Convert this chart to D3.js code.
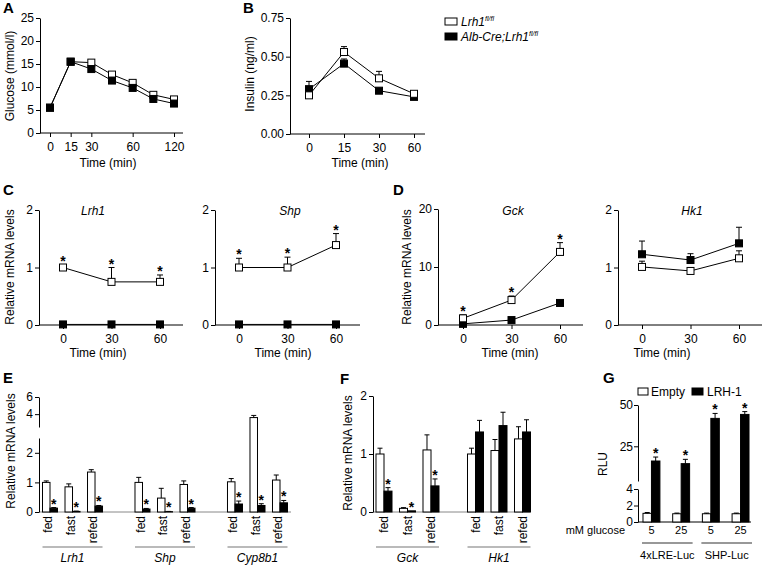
<!DOCTYPE html>
<html><head><meta charset="utf-8">
<script src="https://cdn.jsdelivr.net/npm/d3@7"></script>
<style>
body{margin:0;background:#fff}
svg{display:block;font-family:"Liberation Sans",Arial,Helvetica,sans-serif}
</style></head><body>
<svg id="c" width="766" height="567"></svg>
<script>
// ---------------- DATA ----------------
// A: glucose tolerance
const timeA = ["0","15","30","45","60","90","120"];
const timeATicks = ["0","15","30","60","120"];
const glucoseCtrl = [5.5,15.5,15.3,12.7,10.9,8.3,7.3];
const glucoseKO   = [5.5,15.5,13.9,11.4,9.8,7.4,6.4];
// B: insulin
const timeB = ["0","15","30","60"];
const insulinCtrl = [0.25,0.53,0.36,0.26];
const insulinCtrlErr = [0.02,0.035,0.045,0.015];
const insulinKO = [0.29,0.455,0.28,0.24];
const insulinKOErr = [0.05,0.03,0.01,0.01];
// C / D: time course
const timeC = ["0","30","60"];
const lrh1Ctrl = [1.0,0.75,0.75], lrh1CtrlErr = [0.04,0.25,0.12];
const lrh1KO = [0.01,0.01,0.01];
const shpCtrl = [1.0,1.0,1.39], shpCtrlErr = [0.16,0.18,0.2];
const shpKO = [0.01,0.01,0.01];
const gckCtrl = [1.15,4.3,12.6], gckCtrlErr = [0.6,0.7,1.6];
const gckKO = [0.2,0.85,3.8], gckKOErr = [0,0,0.4];
const hk1Ctrl = [1.01,0.94,1.16], hk1CtrlErr = [0.1,0.06,0.13];
const hk1KO = [1.23,1.13,1.42], hk1KOErr = [0.23,0.11,0.28];
// E: fed / fast / refed
const conds = ["fed","fast","refed"];
const eGenes = ["Lrh1","Shp","Cyp8b1"];
const eCtrl    = [[1.0,0.85,1.35],[1.0,0.47,0.93],[1.02,3.6,1.08]];
const eCtrlErr = [[0.05,0.1,0.08],[0.17,0.33,0.12],[0.11,0.25,0.17]];
const eKO      = [[0.13,0.02,0.2],[0.1,0.01,0.13],[0.27,0.22,0.31]];
const eKOErr   = [[0.02,0.01,0.02],[0.02,0.01,0.02],[0.1,0.06,0.08]];
// F
const fGenes = ["Gck","Hk1"];
const fCtrl    = [[1.0,0.063,1.07],[1.0,1.06,1.26]];
const fCtrlErr = [[0.1,0.012,0.26],[0.1,0.19,0.21]];
const fKO      = [[0.36,0.02,0.45],[1.38,1.49,1.38]];
const fKOErr   = [[0.06,0,0.12],[0.2,0.23,0.21]];
const fStars   = [true,false];
// G: luciferase
const gGlucose = ["5","25","5","25"];
const gReporters = ["4xLRE-Luc","SHP-Luc"];
const gEmpty = [1.05,1.0,1.0,1.0], gEmptyErr = [0.1,0.08,0.08,0.08];
const gLRH = [16.1,14.5,41.9,44.3], gLRHErr = [2.4,2.6,3.0,1.7];

// ---------------- HELPERS ----------------
const svg = d3.select("#c");
const FS = 12;
function tidy(g, size){ g.attr("font-size",size||FS).attr("font-family",null);
  g.selectAll("path,line").attr("stroke","#000"); g.selectAll("text").attr("fill","#000"); return g; }
function leftAxis(scale, x, ticks, fmt, size, pad){
  const a = d3.axisLeft(scale).tickValues(ticks).tickSize(4).tickSizeOuter(0).tickPadding(pad==null?2:pad)
    .tickFormat(fmt || d3.format("~g"));
  return tidy(svg.append("g").attr("transform",`translate(${x},0)`).call(a), size);
}
function bottomAxis(scale, y, x0, x1, ticks){
  const g = svg.append("g").attr("transform",`translate(0,${y})`)
    .call(d3.axisBottom(scale).tickValues(ticks).tickSize(4).tickSizeOuter(0).tickPadding(5));
  g.select(".domain").remove();
  g.append("line").attr("x1",x0).attr("x2",x1).attr("y1",0).attr("y2",0);
  return tidy(g);
}
function txt(s, x, y, opts={}){
  const t = svg.append("text").attr("x",x).attr("y",y).attr("font-size",opts.size||FS)
    .attr("text-anchor",opts.anchor||"middle").attr("fill","#000").text(s);
  if (opts.italic) t.attr("font-style","italic");
  if (opts.bold) t.attr("font-weight","bold");
  return t;
}
function vlabel(s, x, y){
  svg.append("text").attr("transform",`translate(${x},${y}) rotate(-90)`)
    .attr("text-anchor","middle").attr("font-size",FS).attr("fill","#000").text(s);
}
function star(x, y){ txt("*", x, y+1, {size:14, bold:true}); }
function linePlot(x, y, cats, series){
  const g = svg.append("g");
  series.forEach(s=>{
    g.append("path").attr("d", d3.line().x((d,i)=>x(cats[i])).y(d=>y(d))(s.vals))
      .attr("fill","none").attr("stroke","#000").attr("stroke-width",1);
  });
  series.forEach(s=>{
    s.vals.forEach((v,i)=>{
      const e = s.errs ? s.errs[i] : 0; if (!e) return;
      const cx = x(cats[i]);
      g.append("line").attr("x1",cx).attr("x2",cx).attr("y1",y(v)).attr("y2",y(v+e)).attr("stroke","#000");
      g.append("line").attr("x1",cx-3).attr("x2",cx+3).attr("y1",y(v+e)).attr("y2",y(v+e)).attr("stroke","#000");
    });
  });
  series.forEach(s=>{
    s.vals.forEach((v,i)=>{
      g.append("rect").attr("x",x(cats[i])-3.5).attr("y",y(v)-3.5).attr("width",7).attr("height",7)
        .attr("fill", s.filled ? "#000" : "#fff").attr("stroke","#000").attr("stroke-width",1);
    });
  });
  series.forEach(s=>{
    if (!s.stars) return;
    s.vals.forEach((v,i)=>{ const e = s.errs ? s.errs[i] : 0; star(x(cats[i]), y(v+e)); });
  });
}

// ---------------- PANEL LETTERS ----------------
[["A",3,13],["B",243,13],["C",3,195],["D",393,195],["E",3,383],["F",340,384],["G",603,383]]
  .forEach(([l,x,y])=>txt(l,x,y,{size:15,bold:true,anchor:"start"}).attr("font-weight","900"));

// ---------------- A ----------------
{
  const x = d3.scalePoint().domain(timeA).range([50,174]);
  const y = d3.scaleLinear().domain([0,25]).range([133,18]);
  leftAxis(y, 40, [0,5,10,15,20,25]);
  bottomAxis(x, 133, 40, 183, timeATicks);
  linePlot(x, y, timeA, [{vals:glucoseCtrl},{vals:glucoseKO, filled:true}]);
  vlabel("Glucose (mmol/l)", 14, 76);
  txt("Time (min)", 108, 167);
}
// ---------------- B ----------------
{
  const x = d3.scalePoint().domain(timeB).range([309,414]);
  const y = d3.scaleLinear().domain([0,0.75]).range([134,18]);
  leftAxis(y, 290, [0,0.25,0.5,0.75], d3.format(".2f"));
  bottomAxis(x, 134, 290, 425, timeB);
  linePlot(x, y, timeB, [{vals:insulinKO, errs:insulinKOErr, filled:true},{vals:insulinCtrl, errs:insulinCtrlErr}]);
  vlabel("Insulin (ng/ml)", 254, 74);
  txt("Time (min)", 360, 167);
  // legend
  svg.append("rect").attr("x",445).attr("y",18).attr("width",12).attr("height",7).attr("fill","#fff").attr("stroke","#000");
  svg.append("rect").attr("x",445).attr("y",33).attr("width",12).attr("height",7).attr("fill","#000").attr("stroke","#000");
  const t1 = txt("Lrh1", 461, 26, {anchor:"start", italic:true});
  t1.append("tspan").attr("font-size",7).attr("dy",-5).text("fl/fl");
  const t2 = txt("Alb-Cre;Lrh1", 461, 41, {anchor:"start", italic:true});
  t2.append("tspan").attr("font-size",7).attr("dy",-5).text("fl/fl");
}
// ---------------- C / D ----------------
{
  const yC = d3.scaleLinear().domain([0,2]).range([325,210]);
  const yG = d3.scaleLinear().domain([0,20]).range([325,209]);
  const panels = [
    {name:"Lrh1", ax:39, r:[63,160], end:183, y:yC, ticks:[0,1,2], tx:93, lx:98,
     series:[{vals:lrh1KO, filled:true},{vals:lrh1Ctrl, errs:lrh1CtrlErr, stars:true}]},
    {name:"Shp", ax:215, r:[239,336], end:360, y:yC, ticks:[0,1,2], tx:290, lx:283,
     series:[{vals:shpKO, filled:true},{vals:shpCtrl, errs:shpCtrlErr, stars:true}]},
    {name:"Gck", ax:438, r:[463,560], end:583, y:yG, ticks:[0,10,20], tx:513, lx:510,
     series:[{vals:gckKO, errs:gckKOErr, filled:true},{vals:gckCtrl, errs:gckCtrlErr, stars:true}]},
    {name:"Hk1", ax:618, r:[642,739], end:762, y:yC, ticks:[0,1,2], tx:692, lx:662,
     series:[{vals:hk1Ctrl, errs:hk1CtrlErr},{vals:hk1KO, errs:hk1KOErr, filled:true}]}
  ];
  panels.forEach(p=>{
    const x = d3.scalePoint().domain(timeC).range(p.r);
    leftAxis(p.y, p.ax, p.ticks);
    bottomAxis(x, 325, p.ax, p.end, timeC);
    linePlot(x, p.y, timeC, p.series);
    txt(p.name, p.tx, 215, {italic:true});
    txt("Time (min)", p.lx, 357);
  });
  vlabel("Relative mRNA levels", 14, 267);
  vlabel("Relative mRNA levels", 411, 267);
}
// ---------------- bar helper ----------------
function barGroup(xPos, w, yFn, base, v, e, filled, withStar){
  svg.append("rect").attr("x",xPos).attr("y",yFn(v)).attr("width",w).attr("height",Math.max(0,base-yFn(v)))
    .attr("fill", filled ? "#000" : "#fff").attr("stroke","#000").attr("stroke-width",1);
  const cx = xPos + w/2;
  if (e > 0){
    svg.append("line").attr("x1",cx).attr("x2",cx).attr("y1",yFn(v)).attr("y2",yFn(v+e)).attr("stroke","#000");
    svg.append("line").attr("x1",cx-2.5).attr("x2",cx+2.5).attr("y1",yFn(v+e)).attr("y2",yFn(v+e)).attr("stroke","#000");
  }
  if (withStar) star(cx, yFn(v+e));
}
// ---------------- E ----------------
{
  const yLow = d3.scaleLinear().domain([0,2.5]).range([512,438]);
  const yHigh = d3.scaleLinear().domain([2.5,6]).range([427,397]);
  const y = v => v <= 2.5 ? yLow(v) : yHigh(v);
  const xO = d3.scaleBand().domain(eGenes).range([38.75,291.25]).paddingInner(0.27).paddingOuter(0);
  const xI = d3.scaleBand().domain(conds).range([0,xO.bandwidth()]).paddingInner(1/3).paddingOuter(1/6);
  const xS = d3.scaleBand().domain(["ctrl","ko"]).range([0,xI.bandwidth()]);
  svg.append("line").attr("x1",39).attr("x2",291).attr("y1",512).attr("y2",512).attr("stroke","#888");
  eGenes.forEach((g,gi)=>{
    conds.forEach((c,ci)=>{
      const x0 = xO(g)+xI(c);
      barGroup(x0+xS("ctrl"), xS.bandwidth(), y, 512, eCtrl[gi][ci], eCtrlErr[gi][ci], false, false);
      barGroup(x0+xS("ko"), xS.bandwidth(), y, 512, eKO[gi][ci], eKOErr[gi][ci], true, true);
      svg.append("text").attr("transform",`translate(${x0+xI.bandwidth()/2-2},516) rotate(-90)`)
        .attr("dy","0.35em").attr("text-anchor","end").attr("font-size",FS).attr("fill","#000").text(c);
    });
    const a = xO(g)+xI("fed"), b = xO(g)+xI("refed")+xI.bandwidth();
    svg.append("line").attr("x1",a).attr("x2",b).attr("y1",547).attr("y2",547).attr("stroke","#777").attr("stroke-width",1.2);
    txt(g, (a+b)/2, 562, {italic:true});
  });
  leftAxis(yLow, 39, [0,1,2]);
  leftAxis(yHigh, 39, [4,6]);
  vlabel("Relative mRNA levels", 15, 451);
}
// ---------------- F ----------------
{
  const y = d3.scaleLinear().domain([0,2]).range([512,396]);
  const xO = d3.scaleBand().domain(fGenes).range([372.25,534.25]).paddingInner(0.2295).paddingOuter(0);
  const xI = d3.scaleBand().domain(conds).range([0,xO.bandwidth()]).paddingInner(0.319).paddingOuter(0.1595);
  const xS = d3.scaleBand().domain(["ctrl","ko"]).range([0,xI.bandwidth()]);
  svg.append("line").attr("x1",373).attr("x2",530).attr("y1",512).attr("y2",512).attr("stroke","#888");
  fGenes.forEach((g,gi)=>{
    conds.forEach((c,ci)=>{
      const x0 = xO(g)+xI(c);
      barGroup(x0+xS("ctrl"), xS.bandwidth(), y, 512, fCtrl[gi][ci], fCtrlErr[gi][ci], false, false);
      barGroup(x0+xS("ko"), xS.bandwidth(), y, 512, fKO[gi][ci], fKOErr[gi][ci], true, fStars[gi]);
      svg.append("text").attr("transform",`translate(${x0+xI.bandwidth()/2},516) rotate(-90)`)
        .attr("dy","0.35em").attr("text-anchor","end").attr("font-size",FS).attr("fill","#000").text(c);
    });
    const a = xO(g)+xI("fed"), b = xO(g)+xI("refed")+xI.bandwidth();
    svg.append("line").attr("x1",a).attr("x2",b).attr("y1",547).attr("y2",547).attr("stroke","#777").attr("stroke-width",1.2);
    txt(g, (a+b)/2, 562, {italic:true});
  });
  leftAxis(y, 373, [0,1,2]);
  vlabel("Relative mRNA levels", 352, 453);
}
// ---------------- G ----------------
{
  const yLow = d3.scaleLinear().domain([0,4]).range([522,489]);
  const yHigh = d3.scaleLinear().domain([4,50]).range([481,405]);
  const y = v => v <= 4 ? yLow(v) : yHigh(v);
  const idx = d3.range(gGlucose.length);
  const x = d3.scaleBand().domain(idx).range([638,754]).paddingInner(0.43).paddingOuter(0.168);
  const xS = d3.scaleBand().domain(["empty","lrh"]).range([0,x.bandwidth()]);
  svg.append("line").attr("x1",638).attr("x2",751).attr("y1",522).attr("y2",522).attr("stroke","#000");
  idx.forEach(i=>{
    barGroup(x(i)+xS("empty"), xS.bandwidth(), y, 522, gEmpty[i], gEmptyErr[i], false, false);
    barGroup(x(i)+xS("lrh"), xS.bandwidth(), y, 522, gLRH[i], gLRHErr[i], true, true);
    txt(gGlucose[i], x(i)+x.bandwidth()/2, 534, {size:11});
  });
  txt("mM glucose", 625, 534, {anchor:"end", size:11});
  gReporters.forEach((r,ri)=>{
    const a = x(ri*2)-1, b = x(ri*2+1)+x.bandwidth()+3;
    svg.append("line").attr("x1",a).attr("x2",b).attr("y1",543).attr("y2",543).attr("stroke","#333").attr("stroke-width",1.2);
    txt(r, (a+b)/2, 559, {size:11});
  });
  leftAxis(yLow, 638, [0,2,4], null, 12, 1);
  leftAxis(yHigh, 638, [25,50], null, 12, 1);
  vlabel("RLU", 607, 464);
  // legend
  svg.append("rect").attr("x",638).attr("y",388).attr("width",10).attr("height",7).attr("fill","#fff").attr("stroke","#000");
  txt("Empty", 651, 396, {anchor:"start"});
  svg.append("rect").attr("x",692).attr("y",388).attr("width",11).attr("height",7).attr("fill","#000").attr("stroke","#000");
  txt("LRH-1", 707, 396, {anchor:"start"});
}
</script>
</body></html>
